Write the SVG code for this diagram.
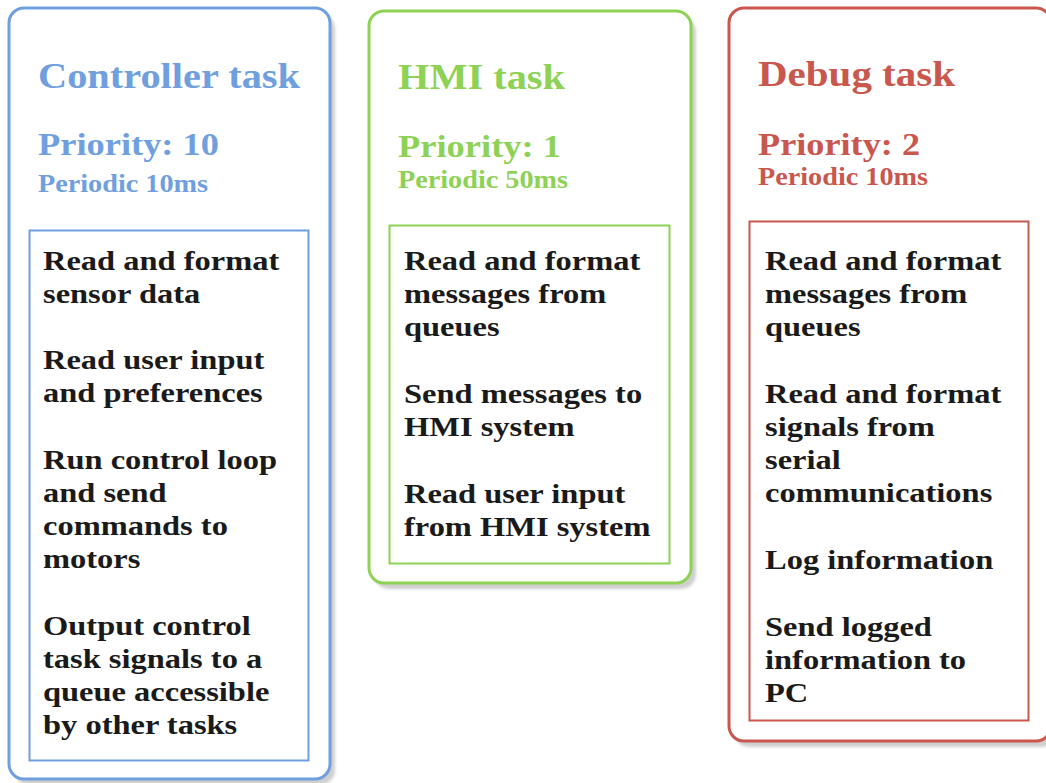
<svg xmlns="http://www.w3.org/2000/svg" width="1046" height="783" viewBox="0 0 1046 783">
<defs>
<filter id="sh" x="-5%" y="-5%" width="110%" height="110%"><feGaussianBlur stdDeviation="1.5"/></filter>
<style>
.bg{fill:#ffffff}
.shadow{fill:#cfcfcf;filter:url(#sh)}
.outer{fill:#ffffff;stroke-width:3}
.inner{fill:none;stroke-width:2}
.blue{stroke:#6f9fde}
.green{stroke:#8dd155}
.red{stroke:#c9574d}
.tblue{fill:#6f9fde}
.tgreen{fill:#8dd155}
.tred{fill:#c9574d}
text{font-family:"Liberation Serif","Times New Roman",serif;font-weight:bold}
.title{font-size:35px}
.prio{font-size:32px}
.per{font-size:24.5px}
.body{font-size:28px;fill:#1a1a1a}
</style>
</defs>
<rect class="bg" x="0" y="0" width="1046" height="783"/>

<g id="controller">
<rect class="shadow" x="14" y="14" width="321" height="771" rx="15"/>
<rect class="outer blue" x="9" y="8" width="321" height="771" rx="15"/>
<text class="title tblue" x="38" y="88" textLength="262" lengthAdjust="spacingAndGlyphs">Controller task</text>
<text class="prio tblue" x="38" y="155" textLength="181" lengthAdjust="spacingAndGlyphs">Priority: 10</text>
<text class="per tblue" x="38" y="192" textLength="170" lengthAdjust="spacingAndGlyphs">Periodic 10ms</text>
<rect class="inner blue" x="29.5" y="230.5" width="279" height="530"/>
<g transform="translate(43,0) scale(1.16,1)">
<text class="body" x="0" y="270">Read and format</text>
<text class="body" x="0" y="303">sensor data</text>
<text class="body" x="0" y="369">Read user input</text>
<text class="body" x="0" y="402">and preferences</text>
<text class="body" x="0" y="469">Run control loop</text>
<text class="body" x="0" y="502">and send</text>
<text class="body" x="0" y="535">commands to</text>
<text class="body" x="0" y="568">motors</text>
<text class="body" x="0" y="635">Output control</text>
<text class="body" x="0" y="668">task signals to a</text>
<text class="body" x="0" y="701">queue accessible</text>
<text class="body" x="0" y="734">by other tasks</text>
</g>
</g>

<g id="hmi">
<rect class="shadow" x="374" y="17" width="322" height="572" rx="15"/>
<rect class="outer green" x="369" y="11" width="322" height="572" rx="15"/>
<text class="title tgreen" x="398" y="89" textLength="167" lengthAdjust="spacingAndGlyphs">HMI task</text>
<text class="prio tgreen" x="398" y="157" textLength="163" lengthAdjust="spacingAndGlyphs">Priority: 1</text>
<text class="per tgreen" x="398" y="188" textLength="170" lengthAdjust="spacingAndGlyphs">Periodic 50ms</text>
<rect class="inner green" x="389.5" y="225.5" width="280" height="338"/>
<g transform="translate(404,0) scale(1.16,1)">
<text class="body" x="0" y="270">Read and format</text>
<text class="body" x="0" y="303">messages from</text>
<text class="body" x="0" y="336">queues</text>
<text class="body" x="0" y="403">Send messages to</text>
<text class="body" x="0" y="436">HMI system</text>
<text class="body" x="0" y="503">Read user input</text>
<text class="body" x="0" y="536">from HMI system</text>
</g>
</g>

<g id="debug">
<rect class="shadow" x="734" y="14" width="322" height="733" rx="15"/>
<rect class="outer red" x="729" y="8" width="322" height="733" rx="15"/>
<text class="title tred" x="758" y="86" textLength="197" lengthAdjust="spacingAndGlyphs">Debug task</text>
<text class="prio tred" x="758" y="155" textLength="162" lengthAdjust="spacingAndGlyphs">Priority: 2</text>
<text class="per tred" x="758" y="185" textLength="170" lengthAdjust="spacingAndGlyphs">Periodic 10ms</text>
<rect class="inner red" x="749.5" y="221.5" width="279" height="499"/>
<g transform="translate(765,0) scale(1.16,1)">
<text class="body" x="0" y="270">Read and format</text>
<text class="body" x="0" y="303">messages from</text>
<text class="body" x="0" y="336">queues</text>
<text class="body" x="0" y="403">Read and format</text>
<text class="body" x="0" y="436">signals from</text>
<text class="body" x="0" y="469">serial</text>
<text class="body" x="0" y="502">communications</text>
<text class="body" x="0" y="569">Log information</text>
<text class="body" x="0" y="636">Send logged</text>
<text class="body" x="0" y="669">information to</text>
<text class="body" x="0" y="702">PC</text>
</g>
</g>

<g id="connectors"></g>
</svg>
